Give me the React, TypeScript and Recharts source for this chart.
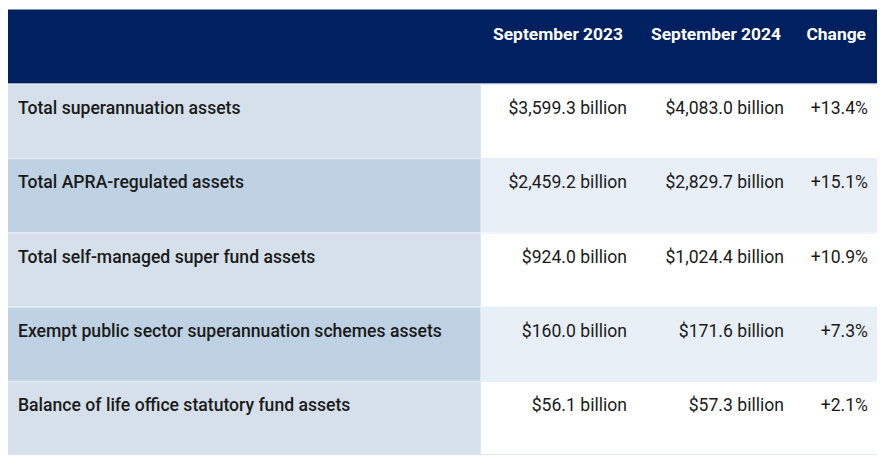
import React from "react";
import { BarChart, Bar, XAxis, YAxis } from "recharts";

const headers = ["September 2023", "September 2024", "Change"];
const rowLabels = [
  "Total superannuation assets",
  "Total APRA-regulated assets",
  "Total self-managed super fund assets",
  "Exempt public sector superannuation schemes assets",
  "Balance of life office statutory fund assets",
];
const sep2023 = [3599.3, 2459.2, 924.0, 160.0, 56.1];
const sep2024 = [4083.0, 2829.7, 1024.4, 171.6, 57.3];
const changePct = [13.4, 15.1, 10.9, 7.3, 2.1];

const fmtB = (v: number) =>
  "$" + v.toLocaleString("en-US", { minimumFractionDigits: 1, maximumFractionDigits: 1 }) + " billion";
const fmtP = (v: number) => "+" + v.toFixed(1) + "%";

const data = [
  { key: "header", span: 1, isHeader: true },
  ...rowLabels.map((label, i) => ({
    key: label,
    span: 1,
    isHeader: false,
    label,
    a: fmtB(sep2023[i]),
    b: fmtB(sep2024[i]),
    c: fmtP(changePct[i]),
  })),
];

const NAVY = "#00205f";
const LEFT_LIGHT = "#d5e0eb";
const LEFT_DARK = "#bfd2e4";
const RIGHT_LIGHT = "#e8eff6";
const FONT = "Roboto, 'DejaVu Sans', sans-serif";
const FS = 17.6;
const HFS = 17.4;
const LEFT_W = 472;
const VAL_RIGHTS = [619, 776, 860];
const HEAD_RIGHTS = [615, 773, 858];

const RowShape = (props: any) => {
  const { x, y, width, height, payload, index } = props;
  const ty = y + 24;
  if (payload.isHeader) {
    return (
      <g>
        <rect x={x} y={y} width={width} height={height} fill={NAVY} />
        {headers.map((h, i) => (
          <text key={h} x={x + HEAD_RIGHTS[i]} y={ty} textAnchor="end" dominantBaseline="central"
            fill="#ffffff" fontFamily={FONT} fontWeight={700} fontSize={HFS}>{h}</text>
        ))}
      </g>
    );
  }
  const even = index % 2 === 0;
  return (
    <g>
      <rect x={x} y={y} width={LEFT_W} height={height} fill={even ? LEFT_DARK : LEFT_LIGHT} />
      <rect x={x + LEFT_W} y={y} width={width - LEFT_W} height={height} fill={even ? RIGHT_LIGHT : "#ffffff"} />
      <line x1={x} x2={x + width} y1={y + 0.5} y2={y + 0.5} stroke="#e6ecf3" strokeWidth={1} />
      <line x1={x + LEFT_W + 0.5} x2={x + LEFT_W + 0.5} y1={y} y2={y + height} stroke="#dfe7f0" strokeWidth={1} />
      {index === rowLabels.length && (
        <line x1={x} x2={x + width} y1={y + height - 0.5} y2={y + height - 0.5} stroke="#e3e8ee" strokeWidth={1} />
      )}
      <text x={x + 10} y={ty} dominantBaseline="central" fill="#1a1a1a" fontFamily={FONT}
        fontWeight={500} fontSize={FS}>{payload.label}</text>
      {[payload.a, payload.b, payload.c].map((t: string, i: number) => (
        <text key={i} x={x + VAL_RIGHTS[i]} y={ty} textAnchor="end" dominantBaseline="central"
          fill="#1a1a1a" fontFamily={FONT} fontWeight={400} fontSize={FS}>{t}</text>
      ))}
    </g>
  );
};

export default function App() {
  return (
    <div style={{ margin: -8, width: 890, height: 468, background: "#ffffff", position: "relative" }}>
      <div style={{ position: "absolute", left: 0, top: 0, width: 890, height: 2, background: "#ececec" }} />
      <BarChart
        width={890}
        height={468}
        data={data}
        layout="vertical"
        margin={{ top: 9.5, left: 8, right: 13, bottom: 12.5 }}
        barCategoryGap={0}
        barGap={0}
      >
        <XAxis type="number" domain={[0, 1]} hide />
        <YAxis type="category" dataKey="key" hide />
        <Bar dataKey="span" isAnimationActive={false} shape={RowShape} />
      </BarChart>
    </div>
  );
}
